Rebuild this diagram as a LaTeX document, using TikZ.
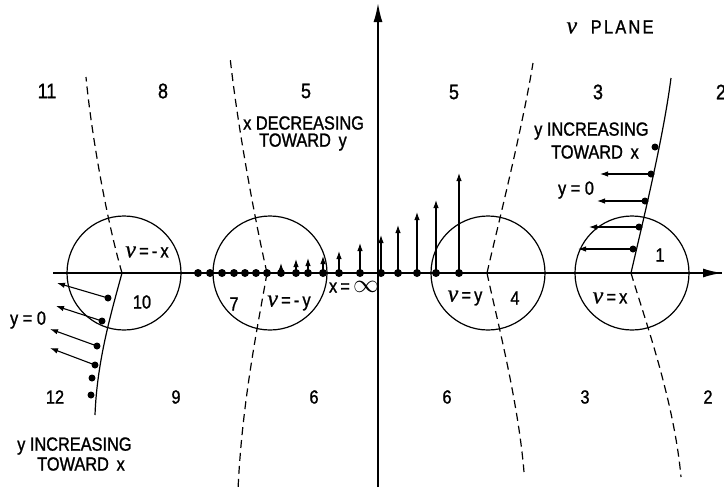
\documentclass[tikz,border=0pt]{standalone}
\usepackage{fontspec}
\setmainfont[FakeStretch=0.86,FakeBold=1.2]{Liberation Sans}
\newfontfamily\nufont[FakeBold=0.6]{Liberation Serif}
\newcommand{\nuv}{{\nufont\itshape\fontsize{24}{24}\selectfont ν}}
\usetikzlibrary{arrows.meta}
\begin{document}
\begin{tikzpicture}[x=1pt,y=-1pt,
  axisline/.style={line width=1.8pt},
  bigtip/.style={-{Latex[length=19pt,width=9pt]}},
  smalltip/.style={-{Latex[length=8pt,width=5.5pt]}, line width=1.1pt},
  curve/.style={line width=1.2pt},
  dcurve/.style={line width=1.2pt, dash pattern=on 8pt off 5pt},
  ring/.style={line width=1.2pt},
  lab/.style={inner sep=0pt, font=\fontsize{19}{22}\selectfont},
  num/.style={inner sep=0pt, font=\fontsize{21}{24}\selectfont}]
\useasboundingbox (0,0) rectangle (724,493);
% branch points
\coordinate (bA) at (122,273);
\coordinate (bB) at (267,273);
\coordinate (bC) at (487,273);
\coordinate (bD) at (631,273);
% axes
\coordinate (hL) at (53,273);
\coordinate (hR) at (722,273);
\coordinate (hM) at (700,273);
\coordinate (vB) at (378,487);
\coordinate (vT) at (378,3);
\draw[axisline] (hL) -- (hR);
\draw[axisline, bigtip] (hM) -- (hR);
\draw[axisline, bigtip] (vB) -- (vT);
% circles
\foreach \c in {124,270,488,632}
  \draw[ring] (\c,273) circle[radius=57];
% curves
\coordinate (aT) at (86,77);   \coordinate (aB) at (95,415);
\coordinate (bT) at (230,57);  \coordinate (bBt) at (238,490);
\coordinate (cT) at (533,63);  \coordinate (cB) at (524,472);
\coordinate (dT) at (671,78);  \coordinate (dB) at (681,477);
\draw[dcurve] (bA) .. controls (108,225) and (92,140) .. (aT);
\draw[curve]  (bA) .. controls (112,310) and (97,360) .. (aB);
\draw[dcurve] (bB) .. controls (256,225) and (238,130) .. (bT);
\draw[dcurve] (bB) .. controls (259,320) and (242,400) .. (bBt);
\draw[dcurve] (bC) .. controls (498,225) and (522,130) .. (cT);
\draw[dcurve] (bC) .. controls (497,320) and (518,400) .. (cB);
\draw[curve]  (bD) .. controls (642,225) and (663,140) .. (dT);
\draw[dcurve] (bD) .. controls (645,320) and (674,400) .. (dB);
% dots on the axis
\foreach \x in {198,210,222,234,245,256,267}
  \fill (\x,273) circle[radius=4];
% vertical arrows on the axis
\foreach \x/\t [count=\i] in {281/263,296/259,308/258,323/256,339/251,360/243,381/235,398/225,417/212,436/200,459/173}{
  \coordinate (s\i) at (\x,273);
  \coordinate (t\i) at (\x,\t);
  \fill (s\i) circle[radius=4];
  \draw[smalltip] (s\i) -- (t\i);
}
% right y=0 arrows
\fill (655,147) circle[radius=3.5];
\foreach \a/\b/\y [count=\i] in {651/600/174,645/597/201,639/589/227,633/578/249}{
  \coordinate (ra\i) at (\a,\y);
  \coordinate (rb\i) at (\b,\y);
  \fill (ra\i) circle[radius=3.5];
  \draw[smalltip] (ra\i) -- (rb\i);
}
% left y=0 arrows
\foreach \a/\ay/\b/\by [count=\i] in {108/298/57/283,102/321/56/306,97/346/50/329,95/365/50/348}{
  \coordinate (la\i) at (\a,\ay);
  \coordinate (lb\i) at (\b,\by);
  \fill (la\i) circle[radius=3.5];
  \draw[smalltip] (la\i) -- (lb\i);
}
\fill (92,378) circle[radius=3.5];
\fill (91,395) circle[radius=3.5];
% region numbers
\node[num] (n11) at (47,91) {11};
\node[num] (n8) at (163,91) {8};
\node[num] (n5a) at (306,91) {5};
\node[num] (n5b) at (454,92) {5};
\node[num] (n3a) at (598,92) {3};
\node[num] (n2a) at (721,92) {2};
\node[lab] (n12) at (55,397) {12};
\node[lab] (n9) at (176,397) {9};
\node[lab] (n6a) at (314,397) {6};
\node[lab] (n6b) at (447,397) {6};
\node[lab] (n3b) at (585,397) {3};
\node[lab] (n2b) at (708,397) {2};
\node[lab] (n10) at (142,302) {10};
\node[lab] (n7) at (234,304) {7};
\node[lab] (n4) at (515,298) {4};
\node[lab] (n1) at (660,255) {1};
% circle labels
\node[lab] (lmx) at (147,252) {\nuv\,=\,-\,x};
\node[lab] (lmy) at (289,303) {\nuv\,=\,-\,y};
\node[lab] (ly) at (465,298) {\nuv\,=\,y};
\node[lab] (lx) at (610,298) {\nuv\,=\,x};
\node[lab] (linf) at (354,287) {x\,=\,\scalebox{1.5}{$\infty$}};
% texts
\node[lab, font=\fontsize{19}{22}\selectfont\addfontfeature{LetterSpace=12}] (plane) at (610,27) {\nuv\ \ PLANE};
\node[lab, anchor=west] (xd1) at (243,123) {x DECREASING};
\node[lab, anchor=west] (xd2) at (259,142) {TOWARD\, y};
\node[lab, anchor=west] (yi1) at (534,131) {y INCREASING};
\node[lab, anchor=west] (yi2) at (551,152) {TOWARD\, x};
\node[lab] (y0r) at (576,190) {y = 0};
\node[lab] (y0l) at (28,320) {y = 0};
\node[lab, anchor=west] (yl1) at (17,446) {y INCREASING};
\node[lab, anchor=west] (yl2) at (37,464) {TOWARD\, x};
\end{tikzpicture}
\end{document}
